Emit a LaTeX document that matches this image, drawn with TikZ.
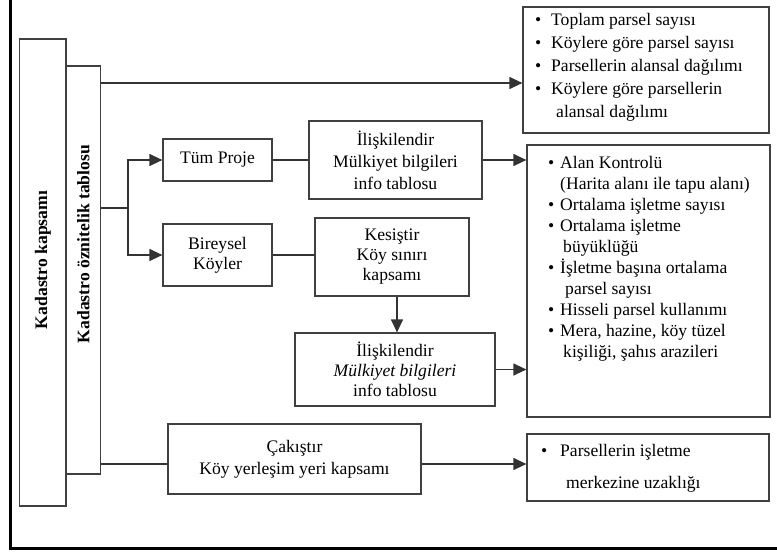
\documentclass[tikz,border=0pt]{standalone}
\usepackage{fontspec}
\setmainfont{Liberation Serif}
\usetikzlibrary{arrows.meta,calc}
\newcommand\bulA{\makebox[16pt][l]{\textbullet}}
\newcommand\bulB{\makebox[12pt][l]{\textbullet}}
\newcommand\bulC{\makebox[19pt][l]{\textbullet}}
\begin{document}
\begin{tikzpicture}[x=1pt,y=-1pt,
  box/.style={draw=black!75, line width=1.2pt, inner sep=0pt, fill=white},
  txt/.style={font=\fontsize{17.6}{21}\selectfont, align=center, inner sep=0pt},
  vtxt/.style={font=\fontsize{17.6}{21}\selectfont\bfseries, rotate=90, inner sep=0pt},
  listtxt/.style={align=left, inner sep=0pt, anchor=north west},
  ln/.style={line width=1.2pt, draw=black!80},
  arr/.style={ln, -{Triangle[length=13pt,width=12pt]}},
  frame/.style={line width=3pt, draw=black}
]
\useasboundingbox (0,0) rectangle (777,552);
% outer frame (left and bottom visible)
\draw[frame] (10,-2) -- (10,548) -- (779,548);

% left boxes
\node[box, minimum width=46.5pt, minimum height=467pt] (kap) at (42.75,272.5) {};
\node[box, minimum width=34.5pt, minimum height=408pt] (oz) at (83.25,270) {};
\node[vtxt] (kapt) at (43,260) {Kadastro kapsamı};
\node[vtxt] (ozt) at (83.5,244) {Kadastro öznitelik tablosu};

% right boxes
\node[box, minimum width=246pt, minimum height=126pt] (top) at (646,70) {};
\node[box, minimum width=243pt, minimum height=272pt] (mid) at (648.5,281) {};
\node[box, minimum width=242pt, minimum height=67pt] (bot) at (648,467.5) {};

\node[listtxt, font=\fontsize{17.6}{23}\selectfont] (toptxt) at (535,13)
  {\bulA Toplam parsel sayısı\\
   \bulA Köylere göre parsel sayısı\\
   \bulA Parsellerin alansal dağılımı\\
   \bulA Köylere göre parsellerin\\
   \hspace*{21pt}alansal dağılımı};
\node[listtxt, font=\fontsize{17.6}{21}\selectfont] (midtxt) at (548,156)
  {\bulB Alan Kontrolü\\
   \hspace*{12pt}(Harita alanı ile tapu alanı)\\
   \bulB Ortalama işletme sayısı\\
   \bulB Ortalama işletme\\
   \hspace*{15pt}büyüklüğü\\
   \bulB İşletme başına ortalama\\
   \hspace*{17pt}parsel sayısı\\
   \bulB Hisseli parsel kullanımı\\
   \bulB Mera, hazine, köy tüzel\\
   \hspace*{15pt}kişiliği, şahıs arazileri};
\node[listtxt, font=\fontsize{17.6}{32}\selectfont] (bottxt) at (541,444)
  {\bulC Parsellerin işletme\\
   \hspace*{25pt}merkezine uzaklığı};

% middle boxes
\node[box, txt, minimum width=109pt, minimum height=42pt] (tum) at (217.5,160) {Tüm Proje};
\node[box, txt, minimum width=109pt, minimum height=62pt, font=\fontsize{17.6}{20}\selectfont] (bir) at (217.5,255) {Bireysel\\Köyler};
\node[box, txt, minimum width=173pt, minimum height=78pt, font=\fontsize{17.6}{22}\selectfont] (il1) at (395.5,160) {İlişkilendir\\Mülkiyet bilgileri\\info tablosu};
\node[box, txt, minimum width=154pt, minimum height=78pt, font=\fontsize{17.6}{20}\selectfont] (kes) at (392,257) {Kesiştir\\Köy sınırı\\kapsamı};
\node[box, txt, minimum width=200pt, minimum height=73pt, font=\fontsize{17.6}{20}\selectfont] (il2) at (395,369.5) {İlişkilendir\\\textit{Mülkiyet bilgileri}\\info tablosu};
\node[box, txt, minimum width=253pt, minimum height=70pt, font=\fontsize{17.6}{22}\selectfont] (cak) at (294.5,459) {Çakıştır\\Köy yerleşim yeri kapsamı};

% connectors
\coordinate (yt) at (0,83);
\coordinate (br) at (128,208);
\coordinate (xk) at (397,0);
\coordinate (yc) at (0,464);
\draw[arr] (oz.east |- yt) -- (top.west |- yt);
\draw[ln] (oz.east |- br) -- (br);
\draw[arr] (br) |- (tum.west);
\draw[arr] (br) |- (bir.west);
\draw[ln] (tum.east) -- (il1.west);
\draw[arr] (il1.east) -- (il1.east -| mid.west);
\draw[ln] (bir.east) -- (bir.east -| kes.west);
\draw[arr] (xk |- kes.south) -- (xk |- il2.north);
\draw[arr] (il2.east) -- (il2.east -| mid.west);
\draw[ln] (oz.east |- yc) -- (cak.west |- yc);
\draw[arr] (cak.east |- yc) -- (bot.west |- yc);
\end{tikzpicture}
\end{document}
